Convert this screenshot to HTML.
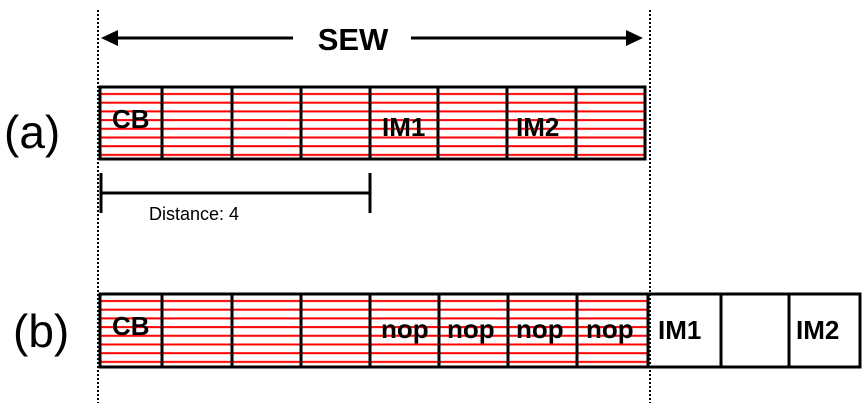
<!DOCTYPE html>
<html><head><style>html,body{margin:0;padding:0;background:#fff}svg{display:block}</style></head>
<body>
<svg width="865" height="403" viewBox="0 0 865 403" xmlns="http://www.w3.org/2000/svg" font-family="Liberation Sans, sans-serif">
<defs>
<pattern id="st" x="0" y="90" width="10" height="8.7" patternUnits="userSpaceOnUse"><rect x="0" y="3" width="10" height="2" fill="#f00"/></pattern>
<pattern id="st2" x="0" y="297" width="10" height="8.7" patternUnits="userSpaceOnUse"><rect x="0" y="3" width="10" height="2" fill="#f00"/></pattern>
</defs>
<line x1="98" y1="10" x2="98" y2="403" stroke="#000" stroke-width="2" stroke-dasharray="2,2"/>
<line x1="650" y1="10" x2="650" y2="403" stroke="#000" stroke-width="2" stroke-dasharray="2,2"/>
<line x1="110" y1="38" x2="293" y2="38" stroke="#000" stroke-width="3"/>
<polygon points="101,38 118,30 118,46" fill="#000"/>
<line x1="411" y1="38" x2="630" y2="38" stroke="#000" stroke-width="3"/>
<polygon points="643,38 626,30 626,46" fill="#000"/>
<text x="353" y="50" font-size="31" font-weight="bold" text-anchor="middle">SEW</text>
<text x="4" y="148" font-size="46">(a)</text>
<text x="13" y="347" font-size="46">(b)</text>
<rect x="100" y="87" width="545" height="72" fill="url(#st)"/>
<rect x="100" y="87" width="545" height="72" fill="none" stroke="#000" stroke-width="3"/>
<g stroke="#000" stroke-width="3">
<line x1="162" y1="87" x2="162" y2="159"/><line x1="232" y1="87" x2="232" y2="159"/><line x1="301" y1="87" x2="301" y2="159"/><line x1="370" y1="87" x2="370" y2="159"/><line x1="438" y1="87" x2="438" y2="159"/><line x1="507" y1="87" x2="507" y2="159"/><line x1="576" y1="87" x2="576" y2="159"/>
</g>
<g font-size="26" font-weight="bold">
<text x="112" y="128">CB</text>
<text x="382" y="136">IM1</text>
<text x="516" y="136">IM2</text>
</g>
<g stroke="#000" stroke-width="3">
<line x1="101" y1="193" x2="370" y2="193"/>
<line x1="101" y1="173" x2="101" y2="213"/>
<line x1="370" y1="173" x2="370" y2="213"/>
</g>
<text x="149" y="220" font-size="18">Distance: 4</text>
<rect x="100" y="294" width="548" height="73" fill="url(#st2)"/>
<rect x="100" y="294" width="760" height="73" fill="none" stroke="#000" stroke-width="3"/>
<g stroke="#000" stroke-width="3">
<line x1="162" y1="294" x2="162" y2="367"/><line x1="232" y1="294" x2="232" y2="367"/><line x1="301" y1="294" x2="301" y2="367"/><line x1="370" y1="294" x2="370" y2="367"/><line x1="439" y1="294" x2="439" y2="367"/><line x1="508" y1="294" x2="508" y2="367"/><line x1="577" y1="294" x2="577" y2="367"/><line x1="648" y1="294" x2="648" y2="367"/><line x1="721" y1="294" x2="721" y2="367"/><line x1="789" y1="294" x2="789" y2="367"/>
</g>
<g font-size="26" font-weight="bold">
<text x="112" y="335">CB</text>
<text x="381" y="338">nop</text>
<text x="447" y="338">nop</text>
<text x="516" y="338">nop</text>
<text x="586" y="338">nop</text>
<text x="658" y="339">IM1</text>
<text x="796" y="339">IM2</text>
</g>
</svg>
</body></html>
